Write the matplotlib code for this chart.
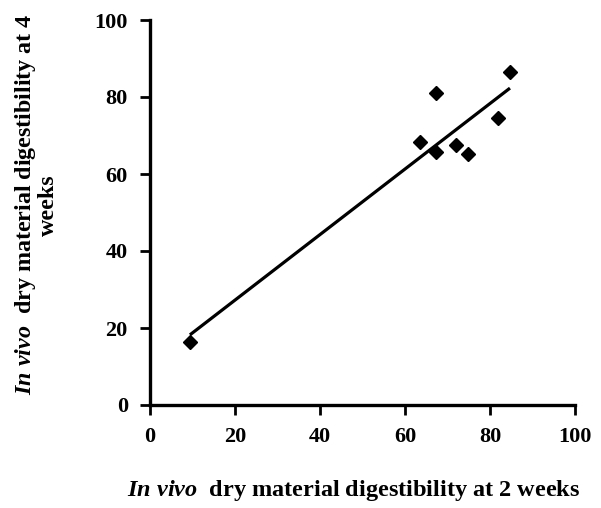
import numpy as np
import matplotlib
matplotlib.use("Agg")
import matplotlib.pyplot as plt

# data
dmd2Weeks = [9.4, 63.5, 67.3, 67.3, 72.0, 74.8, 81.9, 84.7]
dmd4Weeks = [16.4, 68.3, 65.7, 81.0, 67.5, 65.2, 74.5, 86.5]

AXIS_TICKS = [0, 20, 40, 60, 80, 100]

plt.rcParams['font.family'] = ['Liberation Serif', 'DejaVu Serif']
plt.rcParams['font.weight'] = 'bold'
plt.rcParams['mathtext.fontset'] = 'custom'
plt.rcParams['mathtext.rm'] = 'Liberation Serif:bold'
plt.rcParams['mathtext.it'] = 'Liberation Serif:italic:bold'
plt.rcParams['mathtext.bf'] = 'Liberation Serif:bold'
plt.rcParams['mathtext.bfit'] = 'Liberation Serif:italic:bold'

fig = plt.figure(figsize=(6.01, 5.08), dpi=100)
ax = fig.add_axes([150 / 601, 1 - 405 / 508, 425 / 601, 385 / 508])

# 线性拟合
fit = np.poly1d(np.polyfit(dmd2Weeks, dmd4Weeks, 1))
xFit = np.array([min(dmd2Weeks), max(dmd2Weeks)])
ax.plot(xFit, fit(xFit), color='black', linewidth=2.3, solid_capstyle='butt', zorder=2)

ax.plot(dmd2Weeks, dmd4Weeks, linestyle='none', marker='D', markersize=7.6,
        color='black', zorder=3)

ax.set_xlim(0, 100)
ax.set_ylim(0, 100)
ax.set_xticks(AXIS_TICKS)
ax.set_yticks(AXIS_TICKS)
ax.tick_params(direction='out', length=7, width=2, labelsize=16, pad=9, colors='black')
for label in ax.get_xticklabels() + ax.get_yticklabels():
    label.set_fontweight('bold')

for side in ['top', 'right']:
    ax.spines[side].set_visible(False)
for side in ['left', 'bottom']:
    ax.spines[side].set_linewidth(2.4)

ax.set_xlabel(r"$\mathit{In\ vivo}$  dry material digestibility at 2 weeks",
              fontsize=17.5, fontweight='bold')
ax.xaxis.set_label_coords(0.48, -0.19)
ax.set_ylabel("$\\mathit{In\\ vivo}$  dry material digestibility at 4\nweeks",
              fontsize=17.3, fontweight='bold', linespacing=1.0)
ax.yaxis.set_label_coords(-0.215, 0.52)

plt.savefig("out.png", dpi=100)
